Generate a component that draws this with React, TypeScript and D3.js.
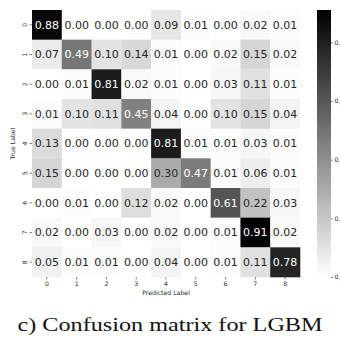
import React, { useRef, useEffect } from 'react';
import * as d3 from 'd3';

const labels = ['0', '1', '2', '3', '4', '5', '6', '7', '8'];

const row0 = [0.88, 0.0, 0.0, 0.0, 0.09, 0.01, 0.0, 0.02, 0.01];
const row1 = [0.07, 0.49, 0.1, 0.14, 0.01, 0.0, 0.02, 0.15, 0.02];
const row2 = [0.0, 0.01, 0.81, 0.02, 0.01, 0.0, 0.03, 0.11, 0.01];
const row3 = [0.01, 0.1, 0.11, 0.45, 0.04, 0.0, 0.1, 0.15, 0.04];
const row4 = [0.13, 0.0, 0.0, 0.0, 0.81, 0.01, 0.01, 0.03, 0.01];
const row5 = [0.15, 0.0, 0.0, 0.0, 0.3, 0.47, 0.01, 0.06, 0.01];
const row6 = [0.0, 0.01, 0.0, 0.12, 0.02, 0.0, 0.61, 0.22, 0.03];
const row7 = [0.02, 0.0, 0.03, 0.0, 0.02, 0.0, 0.01, 0.91, 0.02];
const row8 = [0.05, 0.01, 0.01, 0.0, 0.04, 0.0, 0.01, 0.11, 0.78];

const matrix = [row0, row1, row2, row3, row4, row5, row6, row7, row8];
const colorbarTicks = [0, 0.2, 0.4, 0.6, 0.8];

const W = 340;
const H = 337;

const App = () => {
    const svgRef = useRef(null);

    useEffect(() => {
        const svg = d3.select(svgRef.current);
        svg.selectAll('*').remove();

        const left = 32, right = 300, top = 10, bottom = 277;
        const vmax = d3.max(matrix.flat());

        const x = d3.scaleBand().domain(labels).range([left, right]);
        const y = d3.scaleBand().domain(labels).range([top, bottom]);
        const color = d3.scaleLinear().domain([0, vmax]).range(['#ffffff', '#000000']).clamp(true);

        const cells = matrix.flatMap((row, i) => row.map((v, j) => ({ r: labels[i], c: labels[j], v })));

        svg.append('g')
            .selectAll('rect')
            .data(cells)
            .enter()
            .append('rect')
            .attr('x', d => x(d.c))
            .attr('y', d => y(d.r))
            .attr('width', x.bandwidth() + 0.3)
            .attr('height', y.bandwidth() + 0.3)
            .attr('fill', d => color(d.v));

        const lum = v => {
            const c = d3.rgb(color(v)).r / 255;
            return c <= 0.03928 ? c / 12.92 : Math.pow((c + 0.055) / 1.055, 2.4);
        };

        svg.append('g')
            .selectAll('text')
            .data(cells)
            .enter()
            .append('text')
            .attr('x', d => x(d.c) + x.bandwidth() / 2)
            .attr('y', d => y(d.r) + y.bandwidth() / 2)
            .attr('dy', '0.36em')
            .attr('text-anchor', 'middle')
            .style('font-family', 'DejaVu Sans')
            .style('font-size', '11px')
            .attr('fill', d => (lum(d.v) > 0.38 ? '#262626' : '#ffffff'))
            .text(d => d.v.toFixed(2));

        // x axis
        const xa = svg.append('g').attr('transform', `translate(0,${bottom})`)
            .call(d3.axisBottom(x).tickSize(2.5).tickPadding(2));
        xa.select('.domain').remove();
        xa.selectAll('line').attr('stroke', '#333').attr('stroke-width', 0.6);
        xa.selectAll('text').style('font-family', 'DejaVu Sans').style('font-size', '6.2px').attr('fill', '#262626');

        // y axis
        const ya = svg.append('g').attr('transform', `translate(${left},0)`)
            .call(d3.axisLeft(y).tickSize(2.5).tickPadding(2));
        ya.select('.domain').remove();
        ya.selectAll('line').attr('stroke', '#333').attr('stroke-width', 0.6);
        ya.selectAll('text')
            .style('font-family', 'DejaVu Sans').style('font-size', '6.2px').attr('fill', '#262626')
            .attr('text-anchor', 'middle')
            .attr('x', 0).attr('dy', 0)
            .attr('transform', `translate(-7,0) rotate(-90)`)
            .attr('dy', '0.36em');

        svg.append('text')
            .attr('x', (left + right) / 2)
            .attr('y', 295)
            .attr('text-anchor', 'middle')
            .style('font-family', 'DejaVu Sans')
            .style('font-size', '6.2px')
            .attr('fill', '#262626')
            .text('Predicted Label');

        svg.append('text')
            .attr('transform', `translate(15,${(top + bottom) / 2}) rotate(-90)`)
            .attr('text-anchor', 'middle')
            .style('font-family', 'DejaVu Sans')
            .style('font-size', '6.2px')
            .attr('fill', '#262626')
            .text('True Label');

        // colorbar
        const cbX = 317, cbW = 14;
        const cy = d3.scaleLinear().domain([0, vmax]).range([bottom, top]);
        const defs = svg.append('defs');
        const grad = defs.append('linearGradient').attr('id', 'cb').attr('x1', 0).attr('y1', 1).attr('x2', 0).attr('y2', 0);
        grad.append('stop').attr('offset', '0%').attr('stop-color', color(0));
        grad.append('stop').attr('offset', '100%').attr('stop-color', color(vmax));
        svg.append('rect')
            .attr('x', cbX).attr('y', top)
            .attr('width', cbW).attr('height', bottom - top)
            .attr('fill', 'url(#cb)');

        const ca = svg.append('g').attr('transform', `translate(${cbX + cbW},0)`)
            .call(d3.axisRight(cy).tickValues(colorbarTicks).tickSize(2).tickPadding(1.5).tickFormat(d3.format('.1f')));
        ca.select('.domain').remove();
        ca.selectAll('line').attr('stroke', '#333').attr('stroke-width', 0.6);
        ca.selectAll('text').style('font-family', 'DejaVu Sans').style('font-size', '6.2px').attr('fill', '#262626');

        svg.append('text')
            .attr('x', W / 2)
            .attr('y', 331)
            .attr('text-anchor', 'middle')
            .attr('textLength', 305)
            .attr('lengthAdjust', 'spacingAndGlyphs')
            .style('font-family', 'Liberation Serif')
            .style('font-size', '18px')
            .attr('fill', '#111')
            .text('c) Confusion matrix for LGBM');
    }, []);

    return (
        <svg ref={svgRef} width={W} height={H}
            style={{ position: 'absolute', left: 0, top: 0, background: '#fff' }} />
    );
};

export default App;
